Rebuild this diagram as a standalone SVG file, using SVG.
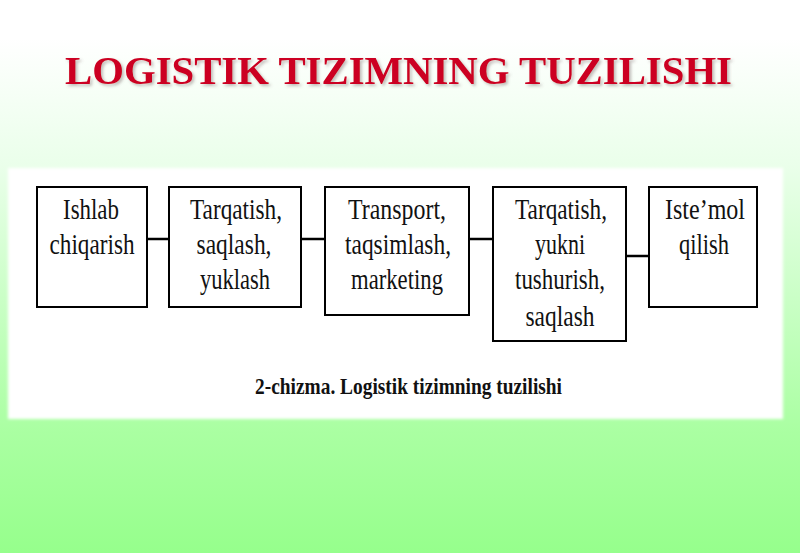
<svg xmlns="http://www.w3.org/2000/svg" width="800" height="553" viewBox="0 0 800 553">
<defs>
<linearGradient id="bg" x1="0" y1="0" x2="0" y2="1">
<stop offset="0" stop-color="#ffffff"/>
<stop offset="0.07" stop-color="#ffffff"/>
<stop offset="0.3" stop-color="#eaffea"/>
<stop offset="0.78" stop-color="#aaffa2"/>
<stop offset="1" stop-color="#96ff8c"/>
</linearGradient>
<filter id="blur" x="-5%" y="-5%" width="110%" height="110%"><feGaussianBlur stdDeviation="1.5"/></filter>
<filter id="shadow" x="-5%" y="-20%" width="110%" height="140%"><feDropShadow dx="2" dy="2" stdDeviation="1.5" flood-color="#6a5a5a" flood-opacity="0.4"/></filter>
<style>
.box{fill:#ffffff;stroke:#000000;stroke-width:2}
.t{font-family:"Liberation Serif","Times New Roman",serif;font-size:30px;fill:#111111;text-anchor:middle}
.con{stroke:#000000;stroke-width:2.5;fill:none}
.title{font-family:"Liberation Serif","Times New Roman",serif;font-size:40px;font-weight:bold;fill:#cc0020}
.cap{font-family:"Liberation Serif","Times New Roman",serif;font-size:24px;font-weight:bold;fill:#111111}
</style>
</defs>
<rect x="0" y="0" width="800" height="553" fill="url(#bg)"/>
<rect x="8" y="168" width="775" height="251" fill="#ffffff" filter="url(#blur)"/>
<g id="title">
<text class="title" x="65" y="84" textLength="667" lengthAdjust="spacingAndGlyphs" filter="url(#shadow)">LOGISTIK TIZIMNING TUZILISHI</text>
</g>
<g id="connectors">
<line class="con" x1="147" y1="239" x2="169" y2="239"/>
<line class="con" x1="301" y1="239" x2="325" y2="239"/>
<line class="con" x1="469" y1="239" x2="493" y2="239"/>
<line class="con" x1="626" y1="256" x2="649" y2="256"/>
</g>
<g id="n1">
<rect class="box" x="37" y="187" width="110" height="120"/>
<text class="t" x="91" y="219" textLength="56" lengthAdjust="spacingAndGlyphs">Ishlab</text>
<text class="t" x="92" y="254" textLength="85" lengthAdjust="spacingAndGlyphs">chiqarish</text>
</g>
<g id="n2">
<rect class="box" x="169" y="187" width="132" height="120"/>
<text class="t" x="236" y="219" textLength="92" lengthAdjust="spacingAndGlyphs">Tarqatish,</text>
<text class="t" x="234" y="254" textLength="75" lengthAdjust="spacingAndGlyphs">saqlash,</text>
<text class="t" x="235" y="289" textLength="70" lengthAdjust="spacingAndGlyphs">yuklash</text>
</g>
<g id="n3">
<rect class="box" x="325" y="187" width="144" height="128"/>
<text class="t" x="397" y="219" textLength="98" lengthAdjust="spacingAndGlyphs">Transport,</text>
<text class="t" x="398" y="254" textLength="106" lengthAdjust="spacingAndGlyphs">taqsimlash,</text>
<text class="t" x="397" y="289" textLength="92" lengthAdjust="spacingAndGlyphs">marketing</text>
</g>
<g id="n4">
<rect class="box" x="493" y="187" width="133" height="154"/>
<text class="t" x="561" y="219" textLength="92" lengthAdjust="spacingAndGlyphs">Tarqatish,</text>
<text class="t" x="560" y="254" textLength="50" lengthAdjust="spacingAndGlyphs">yukni</text>
<text class="t" x="560" y="289" textLength="90" lengthAdjust="spacingAndGlyphs">tushurish,</text>
<text class="t" x="560" y="326" textLength="69" lengthAdjust="spacingAndGlyphs">saqlash</text>
</g>
<g id="n5">
<rect class="box" x="649" y="187" width="108" height="120"/>
<text class="t" x="705" y="219" textLength="80" lengthAdjust="spacingAndGlyphs">Iste’mol</text>
<text class="t" x="704" y="254" textLength="50" lengthAdjust="spacingAndGlyphs">qilish</text>
</g>
<g id="caption">
<text class="cap" x="255" y="394" textLength="307" lengthAdjust="spacingAndGlyphs">2-chizma. Logistik tizimning  tuzilishi</text>
</g>
</svg>
